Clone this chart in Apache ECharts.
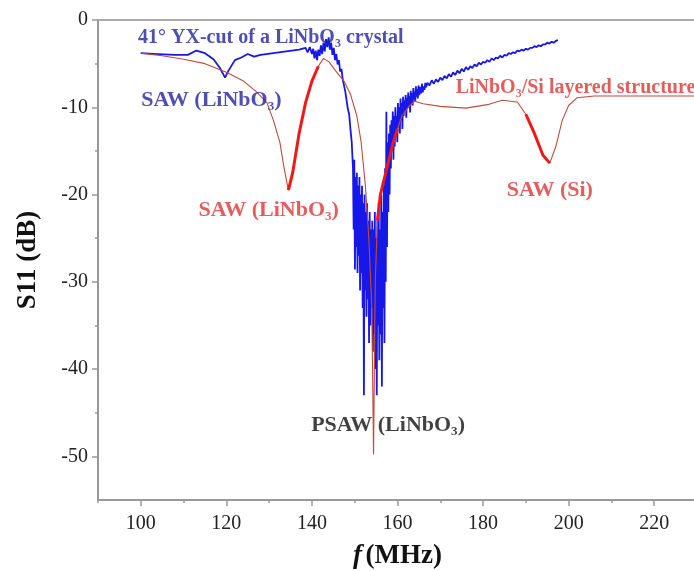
<!DOCTYPE html>
<html>
<head>
<meta charset="utf-8">
<script src="https://cdn.jsdelivr.net/npm/echarts@6/dist/echarts.min.js"></script>
<style>
  html, body { margin: 0; padding: 0; background: #fff; }
  #chart { width: 694px; height: 571px; }
</style>
</head>
<body>
<div id="chart"></div>
<script>
// frequency (MHz), S11 (dB)
const crystalData = [
  [100, -3.8], [104, -3.9], [108, -4.0], [111, -4.0], [113, -3.5], [115, -3.8], [117, -4.5],
  [118.5, -5.5], [119.7, -6.6], [120.5, -5.8], [122, -4.6], [123.5, -4.3], [125, -3.9], [126.5, -4.2],
  [128, -4.0], [131, -3.8], [134, -3.6], [137, -3.4], [138.5, -3.2], [139, -3.7], [139.5, -3.1],
  [140, -3.9], [140.3, -3.3], [140.6, -4.4], [140.9, -3.5], [141.2, -4.6], [141.5, -3.4],
  [141.8, -4.1], [142.1, -2.9], [142.4, -3.9], [142.7, -2.6], [143, -3.6], [143.3, -2.2],
  [143.6, -3.1], [143.9, -2.0], [144.2, -3.4], [144.5, -2.6], [144.8, -4.0], [145.1, -3.2],
  [145.4, -4.6], [145.7, -3.9], [146, -5.1], [146.3, -4.6], [146.6, -5.9], [146.9, -5.6],
  [147.2, -6.8], [147.5, -6.9], [147.8, -8.2], [148.1, -8.4], [148.4, -10.2], [148.7, -10.8],
  [149, -12.5], [149.3, -14], [149.6, -17], [149.75, -24], [149.9, -16], [150.05, -28.6],
  [150.2, -18], [150.35, -26], [150.5, -17.5], [150.65, -29], [150.8, -19], [150.95, -27],
  [151.1, -18], [151.25, -31], [151.4, -20], [151.55, -29], [151.7, -19], [151.85, -33],
  [152.0, -21], [152.15, -43], [152.3, -20], [152.45, -31], [152.6, -22], [152.75, -34],
  [152.9, -21], [153.05, -32], [153.2, -23], [153.35, -37], [153.5, -22], [153.65, -35],
  [153.8, -24], [153.95, -33], [154.1, -23], [154.25, -38], [154.4, -24], [154.55, -36],
  [154.7, -22], [154.85, -40], [155.0, -25], [155.15, -43], [155.3, -23], [155.45, -35],
  [155.6, -21], [155.75, -39], [155.9, -24], [156.05, -36], [156.2, -20], [156.35, -42],
  [156.5, -22], [156.65, -33], [156.8, -19], [156.95, -37], [157.1, -17], [157.25, -30],
  [157.4, -10.5], [157.55, -26], [157.7, -14], [157.85, -22], [158.0, -13], [158.15, -20],
  [158.3, -12], [158.45, -17], [158.6, -11.5], [158.75, -15], [158.9, -10.5], [159.05, -16],
  [159.2, -11], [159.35, -14.5], [159.5, -10], [159.65, -13], [159.8, -11], [159.95, -14],
  [160.1, -9.5], [160.25, -12], [160.4, -10], [160.55, -13], [160.7, -9], [160.85, -11.5],
  [161.0, -9.5], [161.15, -12.5], [161.3, -8.8], [161.45, -11], [161.6, -9.2], [161.75, -10.4],
  [161.9, -8.6], [162.05, -11.2], [162.2, -8.9], [162.35, -10.1], [162.5, -8.3], [162.65, -9.9],
  [162.8, -8.7], [162.95, -10.6], [163.1, -8.1], [163.25, -9.5], [163.4, -8.4], [163.55, -9.8],
  [163.7, -7.8], [163.85, -9.1], [164.0, -8.2], [164.15, -9.4], [164.3, -7.6], [164.45, -8.8],
  [164.6, -7.9], [164.75, -9.0], [164.9, -7.5], [165.1, -8.6], [165.3, -7.7], [165.5, -8.4],
  [165.7, -7.3], [165.9, -8.3], [166.1, -7.6], [166.3, -8.0], [166.5, -7.2], [166.7, -7.7],
  [167, -7.2], [167.5, -7.5], [168, -6.9], [168.5, -7.3], [169, -6.8], [169.5, -7.1], [170, -6.6],
  [170.5, -6.9], [171, -6.4], [171.5, -6.7], [172, -6.2], [172.5, -6.5], [173, -6.0], [173.5, -6.3],
  [174, -5.8], [174.5, -6.1], [175, -5.6], [175.5, -5.9], [176, -5.4], [176.5, -5.7], [177, -5.3],
  [177.5, -5.5], [178, -5.1], [178.5, -5.3], [179, -4.9], [179.5, -5.1], [180, -4.8], [180.5, -4.9],
  [181, -4.6], [181.5, -4.8], [182, -4.4], [182.5, -4.6], [183, -4.3], [183.5, -4.4], [184, -4.1],
  [184.5, -4.3], [185, -4.0], [185.5, -4.1], [186, -3.8], [186.5, -3.9], [187, -3.7], [187.5, -3.8],
  [188, -3.5], [188.5, -3.6], [189, -3.4], [189.5, -3.5], [190, -3.3], [190.5, -3.4], [191, -3.2],
  [191.5, -3.2], [192, -3.0], [192.5, -3.1], [193, -2.9], [193.5, -3.0], [194, -2.8], [194.5, -2.8],
  [195, -2.6], [195.5, -2.7], [196, -2.5], [196.5, -2.6], [197, -2.4], [197.5, -2.3]
];

const layeredData = [
  [100, -3.8], [105, -4.1], [110, -4.5], [115, -5.0], [120, -6.0], [124, -7.0], [127, -8.2],
  [129.5, -9.5], [131, -11.5], [132.5, -14], [133.5, -17], [134.5, -19.5], [135.5, -17.5],
  [137, -13], [138.5, -9.5], [140, -7], [141.5, -5.3], [142.7, -4.4], [144, -4.8], [145.5, -5.8],
  [147.5, -7], [149, -8.5], [150.5, -11], [151.5, -14], [152.5, -19], [153.3, -25], [154, -33],
  [154.4, -49.8], [154.8, -30], [155.3, -23], [156, -20], [157, -18], [158, -16], [159, -14],
  [160, -12.5], [161, -11], [162.5, -10], [164, -9.3], [166, -9.6], [170, -9.9], [176, -10.1],
  [181, -9.7], [184.5, -9.2], [188, -9.4], [190, -10.8], [192, -13], [194, -15.5], [195.6, -16.4],
  [197, -14.5], [198.5, -11.5], [200, -9.8], [202, -8.9], [206, -8.7], [215, -8.7], [230, -8.7]
];

const yLabels = [0, -10, -20, -30, -40, -50];
const yMinor = [-5, -15, -25, -35, -45];
const xLabels = [100, 120, 140, 160, 180, 200, 220];
const xMinor = [90, 110, 130, 150, 170, 190, 210];

const notes = [
  { text: '41° YX-cut of a LiNbO₃ crystal', coord: [130.4, -2.1], color: '#2222a0', size: 20 },
  { text: 'SAW (LiNbO₃)', coord: [116.5, -9.2], color: '#2222a0', size: 22 },
  { text: 'SAW (LiNbO₃)', coord: [129.9, -21.8], color: '#dc3434', size: 22 },
  { text: 'LiNbO₃/Si layered structure', coord: [201.6, -7.8], color: '#dc3434', size: 20 },
  { text: 'SAW (Si)', coord: [195.6, -19.5], color: '#dc3434', size: 22 },
  { text: 'PSAW (LiNbO₃)', coord: [157.8, -46.4], color: '#111', size: 22 }
];

const inRanges = (p, ranges) => ranges.some(r => p[0] >= r[0] && p[0] <= r[1]);

const serif = 'Liberation Serif';
const axisColor = '#999';

const chart = echarts.init(document.getElementById('chart'));

const yBase = {
  type: 'value', min: -55, max: 0, position: 'left',
  axisLine: { show: true, onZero: false, lineStyle: { color: axisColor, width: 2 } },
  splitLine: { show: false }
};
const xBase = {
  type: 'value', min: 90, max: 230, position: 'bottom',
  axisLine: { show: true, onZero: false, lineStyle: { color: axisColor, width: 2 } },
  splitLine: { show: false }
};

chart.setOption({
  animation: false,
  grid: { left: 98, top: 20, right: -3, bottom: 71, outerBoundsMode: 'none', containLabel: false },
  xAxis: [
    Object.assign({}, xBase, {
      name: '{i|f} {b|(MHz)}',
      nameLocation: 'middle',
      nameGap: 43,
      nameTextStyle: {
        rich: {
          i: { fontFamily: serif, fontSize: 27, fontWeight: 'bold', fontStyle: 'italic', color: '#111' },
          b: { fontFamily: serif, fontSize: 27, fontWeight: 'bold', color: '#111' }
        }
      },
      axisTick: { show: true, length: 6, customValues: xLabels, lineStyle: { color: axisColor, width: 1.5 } },
      axisLabel: { customValues: xLabels, margin: 14, fontFamily: serif, fontSize: 20, color: '#222' }
    }),
    Object.assign({}, xBase, {
      axisLine: { show: false, onZero: false },
      axisTick: { show: true, length: 3, customValues: xMinor, lineStyle: { color: axisColor, width: 1.5 } },
      axisLabel: { show: false }
    }),
    Object.assign({}, xBase, {
      position: 'top',
      axisLine: { show: true, onZero: false, lineStyle: { color: '#aaa', width: 2 } },
      axisTick: { show: false },
      axisLabel: { show: false }
    })
  ],
  yAxis: [
    Object.assign({}, yBase, {
      name: 'S11 (dB)',
      nameLocation: 'middle',
      nameGap: 56,
      nameTextStyle: { fontFamily: serif, fontSize: 27, fontWeight: 'bold', color: '#111' },
      axisTick: { show: true, length: 6, customValues: yLabels, lineStyle: { color: axisColor, width: 1.5 } },
      axisLabel: { customValues: yLabels, margin: 10, fontFamily: serif, fontSize: 20, color: '#222' }
    }),
    Object.assign({}, yBase, {
      axisLine: { show: false, onZero: false },
      axisTick: { show: true, length: 3, customValues: yMinor, lineStyle: { color: axisColor, width: 1.5 } },
      axisLabel: { show: false }
    })
  ],
  series: [
    {
      name: 'LiNbO3 crystal',
      type: 'line',
      data: crystalData,
      showSymbol: false,
      lineStyle: { color: '#1717e8', width: 1.8 },
      z: 3
    },
    {
      name: 'LiNbO3/Si',
      type: 'line',
      data: layeredData,
      showSymbol: false,
      lineStyle: { color: '#c24a3a', width: 1.1 },
      z: 4
    },
    {
      name: 'LiNbO3/Si bold',
      type: 'line',
      data: layeredData.map(p => inRanges(p, [[134.5, 141.5], [155.3, 160], [189, 195.6]]) ? p : [p[0], null]),
      connectNulls: false,
      showSymbol: false,
      lineStyle: { color: '#f01818', width: 3 },
      z: 5
    },
    {
      name: 'notes',
      type: 'scatter',
      data: notes.map(n => ({
        value: n.coord,
        label: {
          show: true, position: 'inside', formatter: n.text,
          fontFamily: serif, fontWeight: 'bold', fontSize: n.size, color: n.color
        }
      })),
      symbolSize: 1,
      itemStyle: { color: 'rgba(0,0,0,0)' },
      silent: true,
      z: 6
    }
  ]
});
</script>
</body>
</html>
